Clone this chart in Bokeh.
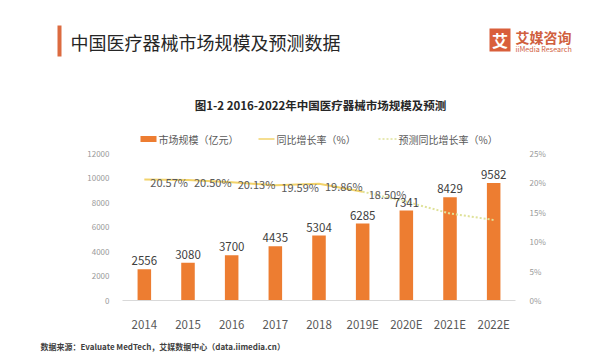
from bokeh.plotting import figure
from bokeh.layouts import column
from bokeh.models import (FactorRange, Range1d, LinearAxis, FixedTicker, PrintfTickFormatter,
                          ColumnDataSource, LabelSet)
from bokeh.core.properties import value
from bokeh.embed import file_html
from bokeh.resources import INLINE

# ---- data ----
categories = ["2014", "2015", "2016", "2017", "2018", "2019E", "2020E", "2021E", "2022E"]
market_size = [2556, 3080, 3700, 4435, 5304, 6285, 7341, 8429, 9582]
growth_years = ["2014", "2015", "2016", "2017", "2018", "2019E"]
growth = [20.57, 20.50, 20.13, 19.59, 19.86, 18.50]
forecast_years = ["2019E", "2020E", "2021E", "2022E"]
forecast_growth = [18.50, 16.8, 14.8, 13.7]
left_ticks = [0, 2000, 4000, 6000, 8000, 10000, 12000]
right_ticks = [0, 5, 10, 15, 20, 25]

title_text = "中国医疗器械市场规模及预测数据"
chart_title = "图1-2 2016-2022年中国医疗器械市场规模及预测"
legend_labels = ["市场规模（亿元）", "同比增长率（%）", "预测同比增长率（%）"]
source_text = "数据来源：Evaluate MedTech，艾媒数据中心（data.iimedia.cn）"

W = 599
H_HEAD, H_MAIN, H_FOOT = 147, 188, 20
FONT = "Noto Sans CJK SC"
BAR = "#ED7D31"
LINE = "#F2D36B"
DOT = "#DFE29A"


def deco_fig(h):
    f = figure(width=W, height=h, x_range=Range1d(0, W), y_range=Range1d(h, 0),
               output_backend="svg", toolbar_location=None,
               x_axis_type=None, y_axis_type=None, frame_align=False,
               min_border=0, min_border_left=0, min_border_right=0,
               min_border_top=0, min_border_bottom=0)
    f.outline_line_color = None
    f.xgrid.visible = False
    f.ygrid.visible = False
    f.background_fill_color = "white"
    f.border_fill_color = "white"
    return f


def txt(f, x, y, s, size, color, align="left", style="normal"):
    f.text(x=[x], y=[y], text=[s], text_font=value(FONT), text_font_size=size,
           text_color=color, text_align=align, text_baseline="middle",
           text_font_style=style)


# ---------------- header (title, logo, chart title, legend) ----------------
head = deco_fig(H_HEAD)
head.quad(left=[57], right=[61], top=[25], bottom=[56], fill_color="#DC6B40", line_color=None)
txt(head, 70, 41, title_text, "18px", "#262626")
head.quad(left=[489], right=[510], top=[28], bottom=[51], fill_color="#D95F3B", line_color=None)
txt(head, 499.5, 39, "艾", "16px", "white", align="center", style="bold")
txt(head, 515, 36, "艾媒咨询", "14px", "#D0603E", style="bold")
txt(head, 515, 48.5, "iiMedia Research", "7.2px", "#D0603E")

txt(head, 320, 104, chart_title, "11.5px", "#262626", align="center", style="bold")

head.quad(left=[140], right=[156], top=[135.5], bottom=[141.5], fill_color=BAR, line_color=None)
txt(head, 158, 138.5, legend_labels[0], "10px", "#595959")
head.line(x=[258, 274], y=[138.5, 138.5], line_color=LINE, line_width=1.5)
txt(head, 276, 138.5, legend_labels[1], "10px", "#595959")
head.line(x=[378, 396], y=[138.5, 138.5], line_color=DOT, line_width=1.5, line_dash="2 2")
txt(head, 398, 138.5, legend_labels[2], "10px", "#595959")

# ---------------- main chart ----------------
p = figure(width=W, height=H_MAIN,
           x_range=FactorRange(*categories),
           y_range=Range1d(0, 12000),
           output_backend="svg", toolbar_location=None, frame_align=False,
           min_border_left=122, min_border_right=84,
           min_border_top=6, min_border_bottom=35)
p.outline_line_color = None
p.xgrid.visible = False
p.ygrid.visible = False
p.background_fill_color = "white"
p.border_fill_color = "white"

ya = p.yaxis[0]
ya.ticker = FixedTicker(ticks=left_ticks)
ya.axis_line_color = None
ya.major_tick_line_color = None
ya.minor_tick_line_color = None
ya.major_label_text_font = FONT
ya.major_label_text_font_size = "8px"
ya.major_label_text_color = "#999999"
ya.major_label_standoff = 7

p.extra_y_ranges = {"pct": Range1d(0, 25)}
ra = LinearAxis(y_range_name="pct", ticker=FixedTicker(ticks=right_ticks),
                formatter=PrintfTickFormatter(format="%d%%"))
ra.axis_line_color = None
ra.major_tick_line_color = None
ra.minor_tick_line_color = None
ra.major_label_text_font = FONT
ra.major_label_text_font_size = "8px"
ra.major_label_text_color = "#999999"
ra.major_label_standoff = 8
p.add_layout(ra, "right")

xa = p.xaxis[0]
xa.axis_line_color = "#D9D9D9"
xa.axis_line_width = 1
xa.major_tick_line_color = None
xa.minor_tick_line_color = None
xa.major_label_text_font = FONT
xa.major_label_text_font_size = "11.5px"
xa.major_label_text_color = "#595959"
xa.major_label_standoff = 9

bar_src = ColumnDataSource(dict(cat=categories, val=market_size,
                                txt=[str(v) for v in market_size]))
p.vbar(x="cat", top="val", width=0.31, source=bar_src, fill_color=BAR, line_color=None)
p.add_layout(LabelSet(x="cat", y="val", text="txt", source=bar_src, y_offset=4,
                      text_align="center", text_baseline="bottom",
                      text_font=value(FONT), text_font_size="11.5px", text_color="#404040"))

p.line(x=forecast_years, y=forecast_growth, y_range_name="pct",
       line_color=DOT, line_width=2, line_dash="2 2")
p.line(x=growth_years, y=growth, y_range_name="pct", line_color=LINE, line_width=2)
g_src = ColumnDataSource(dict(cat=growth_years, g=growth, t=["%.2f%%" % v for v in growth]))
p.add_layout(LabelSet(x="cat", y="g", text="t", source=g_src, y_range_name="pct",
                      x_offset=6, y_offset=-2, text_align="left", text_baseline="middle",
                      text_font=value(FONT), text_font_size="11px", text_color="#595959"))

# ---------------- footer (source) ----------------
foot = deco_fig(H_FOOT)
txt(foot, 40, 11, source_text, "8px", "#404040", style="bold")

layout = column(head, p, foot, spacing=0)
open("out.html", "w").write(file_html(layout, INLINE))
